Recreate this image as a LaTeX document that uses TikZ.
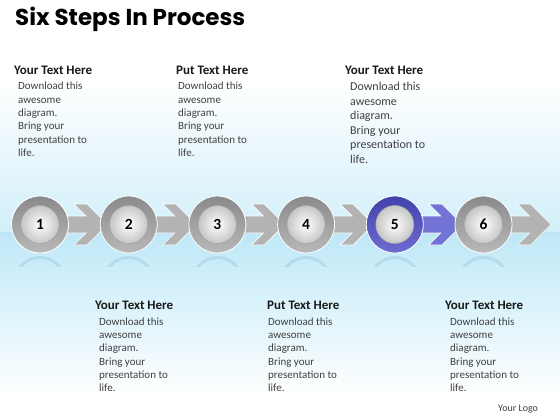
\documentclass[tikz,border=0pt]{standalone}
\usepackage{fontspec}
\setmainfont{Carlito}
\newfontfamily\titlefont{Poppins}
\usetikzlibrary{calc}
\definecolor{bgblue}{HTML}{D2EFFA}
\definecolor{lowblue}{HTML}{BEE7F6}
\definecolor{midblue}{HTML}{D9F2FB}
\definecolor{ringdark}{HTML}{8A8A8A}
\definecolor{ringlight}{HTML}{B8B8B8}
\definecolor{bluedark}{HTML}{4242AC}
\definecolor{bluelight}{HTML}{6C6CD2}
\definecolor{arrowgray}{HTML}{B3B3B3}
\definecolor{arrowblue}{HTML}{7373D6}
\definecolor{bodygray}{HTML}{404040}
\definecolor{reflect}{HTML}{B4DCEB}
\tikzset{
  ring/.style={circle, minimum size=57pt, inner sep=0pt, draw=white, line width=0.8pt,
    top color=ringdark, bottom color=ringlight},
  bluering/.style={ring, top color=bluedark, bottom color=bluelight},
  core/.style={circle, minimum size=38pt, inner sep=0pt, draw=gray!70, line width=0.5pt,
    inner color=white, outer color=gray!45, font=\fontsize{15.5}{15.5}\selectfont\bfseries, text=black},
  chev/.style={fill=arrowgray, draw=white, line width=0.6pt},
  head/.style={anchor=base west, inner sep=0pt, font=\fontsize{13}{13}\selectfont\bfseries, text=black!90},
  body/.style={anchor=north west, inner sep=0pt, align=left, text=bodygray, font=\fontsize{11}{13.3}\selectfont},
  bigbody/.style={body, font=\fontsize{12}{14.5}\selectfont},
}
\newcommand{\chevron}[2]{%
  \draw[#2] ($(#1)+(0,-8.5)$) -- ($(#1)+(46,-8.5)$) -- ($(#1)+(34,-20.5)$) -- ($(#1)+(47,-20.5)$)
    -- ($(#1)+(67.5,0)$) -- ($(#1)+(47,20.5)$) -- ($(#1)+(34,20.5)$) -- ($(#1)+(46,8.5)$)
    -- ($(#1)+(0,8.5)$) -- cycle;}
\begin{document}
\begin{tikzpicture}[x=1pt,y=-1pt]
\useasboundingbox (0,0) rectangle (560,420);
% background
\fill[white] (0,0) rectangle (560,420);
\shade[top color=white, bottom color=bgblue] (0,80) rectangle (560,232);
\shade[top color=lowblue, bottom color=midblue] (0,232) rectangle (560,300);
\shade[top color=midblue, bottom color=white] (0,300) rectangle (560,395);
% title
\node[anchor=base west, inner sep=0pt, font=\titlefont\bfseries\fontsize{23}{23}\selectfont] (title) at (15,26) {Six Steps In Process};
% positions
\foreach \i/\x in {1/40,2/128.7,3/217.4,4/306.1,5/394.8,6/483.5}
  \coordinate (p\i) at (\x,224.5);
% faint reflections
\begin{scope}
  \clip (0,254) rectangle (560,266);
  \foreach \i in {1,...,6}
    \draw[reflect, line width=3pt] ($(p\i)+(0,58)$) circle (25);
\end{scope}
% chevrons
\foreach \i in {1,2,3,4,6} { \chevron{p\i}{chev} }
\chevron{p5}{chev, fill=arrowblue}
% circles
\foreach \i in {1,2,3,4,6} {
  \node[ring] (c\i) at (p\i) {};
  \node[core] (n\i) at (c\i) {\i};
}
\node[bluering] (c5) at (p5) {};
\node[core] (n5) at (c5) {5};
% top texts
\node[head] (h1) at (14,75) {Your Text Here};
\node[body] (b1) at (18,82) {Download this\\awesome\\diagram.\\Bring your\\presentation to\\life.};
\node[head] (h2) at (176,75) {Put Text Here};
\node[body] (b2) at (178,82) {Download this\\awesome\\diagram.\\Bring your\\presentation to\\life.};
\node[head] (h3) at (345,75) {Your Text Here};
\node[bigbody] (b3) at (350,82) {Download this\\awesome\\diagram.\\Bring your\\presentation to\\life.};
% bottom texts
\node[head] (h4) at (95,309) {Your Text Here};
\node[body] (b4) at (99,317.5) {Download this\\awesome\\diagram.\\Bring your\\presentation to\\life.};
\node[head] (h5) at (267,309) {Put Text Here};
\node[body] (b5) at (268,317.5) {Download this\\awesome\\diagram.\\Bring your\\presentation to\\life.};
\node[head] (h6) at (445,309) {Your Text Here};
\node[body] (b6) at (450,317.5) {Download this\\awesome\\diagram.\\Bring your\\presentation to\\life.};
\node[anchor=base west, inner sep=0pt, text=bodygray, font=\fontsize{10}{10}\selectfont] (logo) at (498,411) {Your Logo};
\end{tikzpicture}
\end{document}
